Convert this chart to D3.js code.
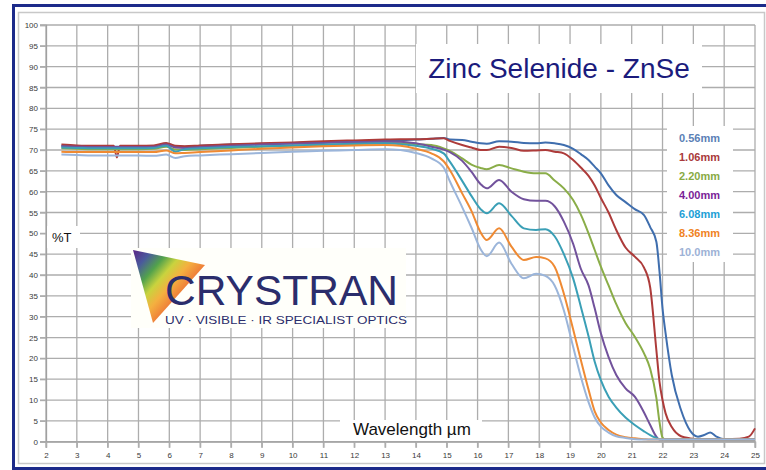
<!DOCTYPE html>
<html>
<head>
<meta charset="utf-8">
<script src="https://cdn.jsdelivr.net/npm/d3@7/dist/d3.min.js"></script>
<style>
  html, body { margin: 0; padding: 0; background: #ffffff; }
  svg { display: block; }
  text { font-family: Arial, "Liberation Sans", sans-serif; }
</style>
</head>
<body>
<svg id="chart" width="766" height="470"></svg>
<script>
// ---------------- DATA ----------------
const wavelengths = [2.5, 3, 3.5, 4.2, 4.3, 4.4, 5, 5.5, 5.9, 6.2,
  6.5, 7, 8, 9, 10, 11, 12, 13, 13.5, 14,
  14.5, 14.9, 15.1, 15.5, 15.8, 16.1, 16.3, 16.7, 17.1, 17.5,
  17.9, 18.2, 18.5, 18.8, 19.1, 19.35, 19.6, 19.8, 20, 20.25,
  20.5, 20.8, 21.1, 21.4, 21.6, 21.8, 21.9, 22, 22.1, 22.3,
  22.6, 22.9, 23.15, 23.35, 23.55, 23.75, 24, 24.5, 24.8, 25];

const t056 = [71.0, 70.9, 70.8, 70.8, 70.8, 70.8, 70.8, 70.9, 71.5, 70.9,
  70.8, 71.0, 71.3, 71.5, 71.7, 71.9, 72.1, 72.3, 72.4, 72.5,
  72.7, 72.9, 72.5, 72.4, 72.0, 71.6, 71.5, 72.1, 72.0, 71.7,
  71.6, 71.8, 71.6, 71.2, 70.3, 69.0, 67.6, 66.0, 64.4, 61.5,
  59.2, 57.5, 55.8, 54.4, 51.5, 48.0, 41.0, 32.0, 26.0, 16.0,
  7.6, 2.6, 1.2, 1.6, 2.2, 1.2, 0.6, 0.5, 0.6, 0.6];

const t106 = [71.3, 71.1, 71.0, 71.0, 68.2, 71.0, 71.0, 71.1, 71.7, 71.0,
  70.9, 71.1, 71.4, 71.6, 71.8, 72.1, 72.3, 72.5, 72.6, 72.6,
  72.7, 72.8, 72.2, 71.2, 70.6, 70.0, 70.0, 70.8, 70.5, 69.8,
  69.9, 70.0, 69.6, 69.2, 67.6, 65.8, 63.8, 61.5, 58.5, 55.0,
  50.8, 46.6, 44.4, 41.8, 37.0, 22.0, 14.5, 10.0, 6.8, 3.5,
  1.3, 0.8, 0.6, 0.6, 0.6, 0.6, 0.6, 0.7, 1.2, 3.2];

const t220 = [70.4, 70.3, 70.2, 70.2, 70.2, 70.2, 70.2, 70.3, 70.8, 70.1,
  70.0, 70.2, 70.5, 70.8, 71.0, 71.2, 71.4, 71.6, 71.6, 71.4,
  71.2, 70.4, 69.8, 68.0, 66.5, 65.7, 65.4, 66.4, 65.6, 64.8,
  64.4, 64.4, 62.7, 60.8, 58.0, 54.5, 50.0, 46.0, 42.0, 37.5,
  33.0, 28.5, 25.2, 21.2, 17.5, 10.5, 4.8, 1.0, 0.5, 0.5,
  0.5, 0.5, 0.5, 0.5, 0.5, 0.5, 0.5, 0.5, 0.5, 0.5];

const t400 = [70.9, 70.8, 70.7, 70.7, 70.7, 70.7, 70.7, 70.8, 71.3, 70.6,
  70.5, 70.7, 71.0, 71.3, 71.5, 71.7, 71.9, 72.0, 72.0, 71.6,
  70.8, 70.1, 69.5, 67.4, 64.8, 61.8, 60.8, 62.8, 60.0, 58.2,
  57.8, 57.8, 56.5, 52.8, 47.5, 41.5, 37.5, 32.0, 26.0, 20.3,
  16.0, 12.8, 10.8, 7.0, 4.0, 1.2, 0.5, 0.5, 0.5, 0.5,
  0.5, 0.5, 0.5, 0.5, 0.5, 0.5, 0.5, 0.5, 0.5, 0.5];

const t608 = [70.6, 70.5, 70.4, 70.4, 70.4, 70.4, 70.4, 70.5, 71.0, 69.6,
  70.2, 70.4, 70.7, 70.9, 71.1, 71.3, 71.5, 71.6, 71.4, 71.0,
  70.3, 69.2, 67.2, 62.6, 59.0, 55.8, 54.8, 57.2, 54.2, 51.2,
  50.8, 51.0, 49.3, 45.0, 39.2, 32.4, 25.3, 19.2, 14.8, 10.8,
  8.2, 5.8, 4.0, 2.5, 1.6, 0.9, 0.6, 0.5, 0.5, 0.5,
  0.5, 0.5, 0.5, 0.5, 0.5, 0.5, 0.5, 0.5, 0.5, 0.5];

const t836 = [69.6, 69.5, 69.5, 69.5, 69.5, 69.5, 69.5, 69.5, 69.9, 69.2,
  69.3, 69.5, 69.9, 70.3, 70.6, 70.9, 71.1, 71.2, 71.0, 70.3,
  69.2, 67.3, 65.2, 59.6, 55.4, 50.2, 48.4, 51.2, 46.8, 43.6,
  44.3, 44.0, 42.0, 35.5, 27.0, 19.6, 12.5, 7.3, 4.6, 2.8,
  1.7, 1.1, 0.8, 0.6, 0.5, 0.5, 0.5, 0.5, 0.5, 0.5,
  0.5, 0.5, 0.5, 0.5, 0.5, 0.5, 0.5, 0.5, 0.5, 0.5];

const t100 = [68.9, 68.8, 68.7, 68.7, 68.7, 68.7, 68.7, 68.6, 68.9, 68.1,
  68.5, 68.7, 69.0, 69.3, 69.6, 69.8, 70.0, 70.2, 70.0, 69.3,
  68.0, 65.8, 62.5, 56.3, 51.4, 46.2, 44.5, 47.8, 42.7, 39.2,
  40.3, 39.8, 37.5, 31.5, 22.8, 15.6, 9.5, 5.8, 3.6, 2.2,
  1.3, 0.9, 0.6, 0.5, 0.5, 0.5, 0.5, 0.5, 0.5, 0.5,
  0.5, 0.5, 0.5, 0.5, 0.5, 0.5, 0.5, 0.5, 0.5, 0.5];

const seriesLabels = ["0.56mm", "1.06mm", "2.20mm", "4.00mm", "6.08mm", "8.36mm", "10.0mm"];
const seriesValues = [t056, t106, t220, t400, t608, t836, t100];

const xTicks = d3.range(2, 26, 1);
const yTicks = d3.range(0, 101, 5);

const titleText = "Zinc Selenide - ZnSe";
const xLabel = "Wavelength µm";
const yLabel = "%T";
const logoName = "CRYSTRAN";
const logoTag = "UV · VISIBLE · IR SPECIALIST OPTICS";

// ---------------- STYLE ----------------
const lineColors = ["#3f6eae", "#ad3b3a", "#8aad48", "#72529c", "#3a9fb6", "#ef8a33", "#9bb5da"];
const legendColors = ["#5b7fb6", "#a9393b", "#88aa44", "#7b1f98", "#1d9fd6", "#f08224", "#9db2d6"];

const svg = d3.select("#chart");
const W = 766, H = 470;
const m = { left: 46, top: 25, right: 755, bottom: 441.7 };

const x = d3.scaleLinear().domain([2, 25]).range([m.left, m.right]);
const y = d3.scaleLinear().domain([0, 100]).range([m.bottom, m.top]);

svg.append("rect").attr("width", W).attr("height", H).attr("fill", "#fff");

// frames
svg.append("rect").attr("x", 13.5).attr("y", 5.5).attr("width", 770).attr("height", 463)
  .attr("fill", "none").attr("stroke", "#1c2a8a").attr("stroke-width", 3);
svg.append("rect").attr("x", 18.5).attr("y", 12.5).attr("width", 746).attr("height", 451)
  .attr("fill", "none").attr("stroke", "#c8c8c8").attr("stroke-width", 1.5);

// grid
const grid = svg.append("g");
grid.selectAll("line.h").data(yTicks).join("line")
  .attr("x1", m.left - 6).attr("x2", m.right)
  .attr("y1", d => y(d)).attr("y2", d => y(d))
  .attr("stroke", "#adadad").attr("stroke-width", 1.3);
grid.selectAll("line.v").data(xTicks).join("line")
  .attr("y1", m.top).attr("y2", m.bottom + 6)
  .attr("x1", d => x(d)).attr("x2", d => x(d))
  .attr("stroke", "#adadad").attr("stroke-width", 1.3);

// axes (labels)
const yAxis = svg.append("g").attr("transform", `translate(${m.left},0)`)
  .call(d3.axisLeft(y).tickValues(yTicks).tickSize(6).tickPadding(2));
const xAxis = svg.append("g").attr("transform", `translate(0,${m.bottom})`)
  .call(d3.axisBottom(x).tickValues(xTicks).tickSize(6).tickPadding(5));
[yAxis, xAxis].forEach(a => {
  a.select(".domain").attr("stroke", "#a0a0a0").attr("stroke-width", 1.3);
  a.selectAll(".tick line").attr("stroke", "#adadad").attr("stroke-width", 1.3);
  a.selectAll(".tick text").attr("font-size", 8).attr("fill", "#3a3a3a")
    .attr("font-family", "Arial, 'Liberation Sans', sans-serif");
});

// series
const line = d3.line()
  .x((d, i) => x(wavelengths[i]))
  .y(d => y(d))
  .curve(d3.curveMonotoneX);

svg.append("g").selectAll("path").data(seriesValues).join("path")
  .attr("d", d => line(d))
  .attr("fill", "none")
  .attr("stroke", (d, i) => lineColors[i])
  .attr("stroke-width", 2)
  .attr("stroke-linejoin", "round");

// title box
svg.append("rect").attr("x", 416).attr("y", 44).attr("width", 286).attr("height", 49).attr("fill", "#fff");
svg.append("text").attr("x", 559).attr("y", 77.5).attr("text-anchor", "middle")
  .attr("font-size", 28).attr("fill", "#1b1b7c").text(titleText);

// legend
svg.append("rect").attr("x", 667).attr("y", 126).attr("width", 66).attr("height", 136).attr("fill", "#fff");
svg.append("g").selectAll("text").data(seriesLabels).join("text")
  .attr("x", 679).attr("y", (d, i) => 141.5 + i * 19.1)
  .attr("font-size", 11).attr("font-weight", "bold")
  .attr("fill", (d, i) => legendColors[i]).text(d => d);

// %T label
svg.append("rect").attr("x", 47).attr("y", 226).attr("width", 33).attr("height", 22).attr("fill", "#fff");
svg.append("text").attr("x", 52).attr("y", 242).attr("font-size", 13).attr("fill", "#111").text(yLabel);

// wavelength label
svg.append("rect").attr("x", 340).attr("y", 420).attr("width", 142).attr("height", 21).attr("fill", "#fff");
svg.append("text").attr("x", 353).attr("y", 435).attr("font-size", 17).attr("fill", "#111").text(xLabel);

// logo
svg.append("rect").attr("x", 131).attr("y", 248).attr("width", 275).attr("height", 80).attr("fill", "#fffffa");
const defs = svg.append("defs");
const grad = defs.append("linearGradient").attr("id", "rainbow")
  .attr("gradientUnits", "userSpaceOnUse")
  .attr("x1", 135).attr("y1", 250).attr("x2", 190).attr("y2", 298);
[[0, "#5a2a88"], [0.18, "#4a5a9c"], [0.36, "#52a24c"], [0.52, "#c9d33e"], [0.68, "#f4b040"], [0.85, "#ef8038"], [1, "#e45a2e"]]
  .forEach(s => grad.append("stop").attr("offset", s[0]).attr("stop-color", s[1]));
svg.append("path").attr("d", "M133,250 L205,265 L153,323 Z").attr("fill", "url(#rainbow)");
svg.append("text").attr("x", 165).attr("y", 305).attr("font-size", 43)
  .attr("textLength", 233).attr("lengthAdjust", "spacingAndGlyphs")
  .attr("fill", "#2b2d6c").text(logoName);
svg.append("text").attr("x", 165).attr("y", 324).attr("font-size", 10.4)
  .attr("textLength", 242).attr("lengthAdjust", "spacingAndGlyphs")
  .attr("fill", "#2b2d6c").text(logoTag);
</script>
</body>
</html>
